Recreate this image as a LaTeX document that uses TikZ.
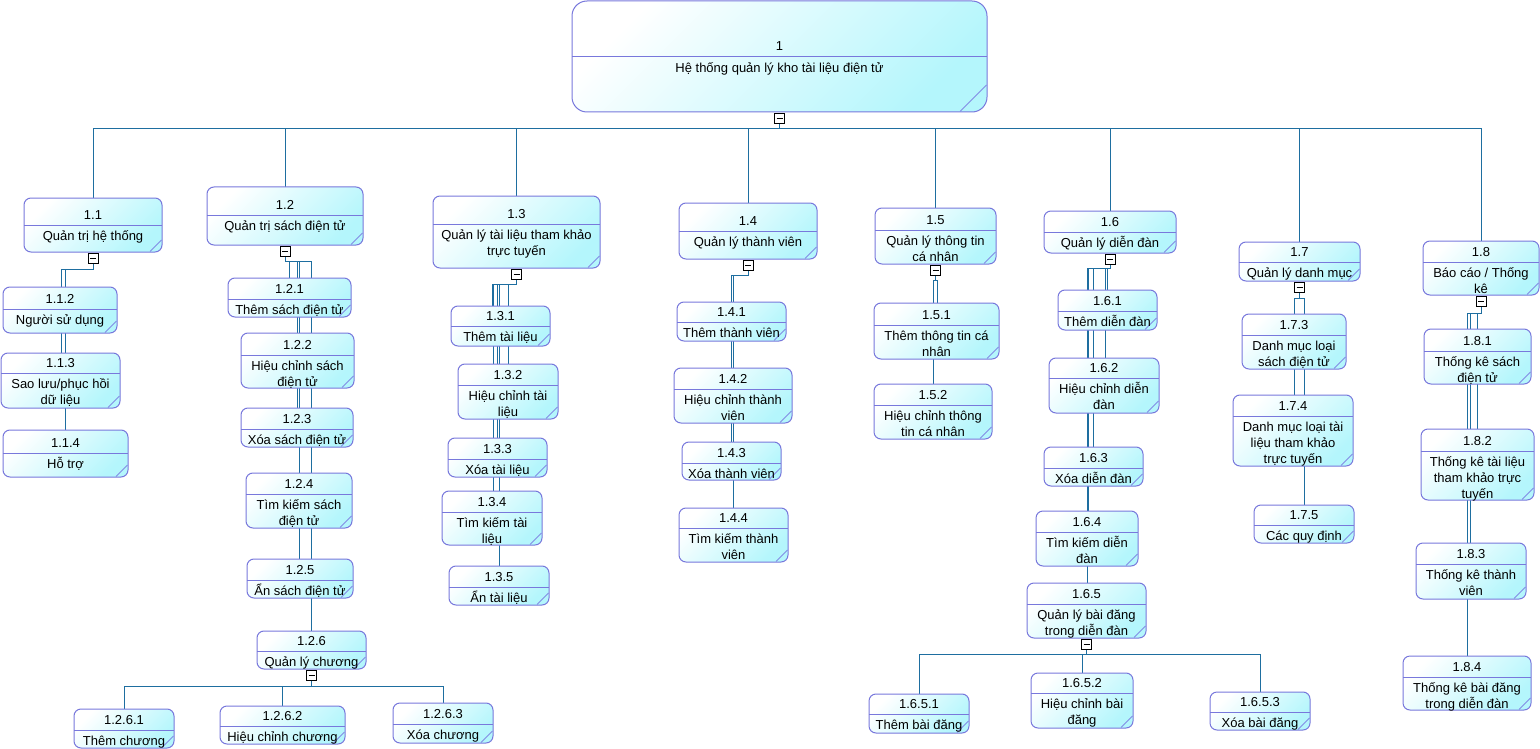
\documentclass[tikz,border=0pt]{standalone}
\usepackage{fontspec}
\setmainfont{Liberation Sans}
\usetikzlibrary{backgrounds}
\definecolor{bordc}{RGB}{120,120,220}
\definecolor{fillc}{RGB}{180,246,252}
\definecolor{connc}{RGB}{30,110,160}
\definecolor{diagc}{RGB}{130,140,230}
\tikzset{
  pbox/.style={draw=bordc, line width=1pt, rounded corners=7pt, top color=white, bottom color=fillc, shading angle=45, inner sep=0pt, outer sep=0pt, anchor=north west},
  txt/.style={inner sep=0pt, font=\fontsize{13}{16}\selectfont, anchor=base},
  conn/.style={draw=connc, line width=1pt},
  divline/.style={draw=bordc, line width=1pt},
  diagline/.style={draw=diagc, line width=0.8pt},
  minusbox/.style={draw=black, fill=white, line width=0.8pt, minimum size=10pt, inner sep=0pt, outer sep=0pt, anchor=north,
    path picture={\draw[black, line width=0.8pt] ([xshift=2pt]path picture bounding box.west) -- ([xshift=-2pt]path picture bounding box.east);}},
}
% name, x1, y1, x2, y2, divider y, number, title lines
\newcommand{\pbx}[8]{%
  \node[pbox, minimum width={(#4-#2)*1pt}, minimum height={(#5-#3)*1pt}] (#1) at (#2,#3) {};
  \draw[divline] (#2,#6) -- (#4,#6);
  \draw[diagline] ({#4-12},{#5-0.5}) -- ({#4-0.5},{#5-12});
  \node[txt] (#1-n) at ({(#2+#4)/2},{#6-5.5}) {#7};
  \foreach \myline [count=\i] in {#8} {\node[txt] (#1-t\i) at ({(#2+#4)/2},{#6+15.5+16*(\i-1)}) {\myline};}
}
\newcommand{\mbx}[2]{\node[minusbox] (#1) at ([yshift=-1pt]#2.south) {};}
% minus node, child node, x of line, jog y
\newcommand{\vconn}[4]{\coordinate (j#2) at (#3,#4); \draw[conn] (#1.south) |- (j#2) -- (j#2 |- #2.north);}
% minus node, child node, bus coordinate
\newcommand{\tconn}[3]{\draw[conn] (#1.south) |- (#3 -| #2.north) -- (#2.north);}
\begin{document}
\begin{tikzpicture}[x=1pt,y=-1pt]
\useasboundingbox (0,0) rectangle (1540,749);
% root
\node[pbox, rounded corners=15pt, minimum width=415pt, minimum height=111pt] (c1) at (572,1) {};
\draw[divline] (572,57) -- (987,57);
\draw[diagline] (960,111.5) -- (986.5,85);
\node[txt] (c1-n) at (779.5,51) {1};
\node[txt] (c1-t1) at (779.5,72.5) {Hệ thống quản lý kho tài liệu điện tử};
% level 1
\pbx{c11}{24}{198}{162}{252}{225}{1.1}{Quản trị hệ thống}
\pbx{c12}{207}{187}{363}{245}{215}{1.2}{Quản trị sách điện tử}
\pbx{c13}{433}{196}{600}{268}{224}{1.3}{Quản lý tài liệu tham khảo,trực tuyến}
\pbx{c14}{679}{203}{817}{259}{231}{1.4}{Quản lý thành viên}
\pbx{c15}{875}{208}{996}{264}{230}{1.5}{Quản lý thông tin,cá nhân}
\pbx{c16}{1044}{211}{1176}{253}{232}{1.6}{Quản lý diễn đàn}
\pbx{c17}{1239}{242}{1360}{281}{262}{1.7}{Quản lý danh mục}
\pbx{c18}{1423}{241}{1539}{295}{262}{1.8}{Báo cáo / Thống,kê}
% 1.1
\pbx{c112}{3}{287}{117}{333}{309}{1.1.2}{Người sử dụng}
\pbx{c113}{1}{353}{120}{408}{373}{1.1.3}{{Sao lưu/phục hồi},dữ liệu}
\pbx{c114}{3}{430}{128}{477}{453}{1.1.4}{Hỗ trợ}
% 1.2
\pbx{c121}{228}{278}{351}{317}{299}{1.2.1}{Thêm sách điện tử}
\pbx{c122}{241}{333}{354}{388}{355}{1.2.2}{Hiệu chỉnh sách,điện tử}
\pbx{c123}{241}{408}{353}{447}{429}{1.2.3}{Xóa sách điện tử}
\pbx{c124}{246}{473}{352}{528}{494}{1.2.4}{Tìm kiếm sách,điện tử}
\pbx{c125}{247}{559}{353}{598}{580}{1.2.5}{Ẩn sách điện tử}
\pbx{c126}{257}{631}{366}{669}{651}{1.2.6}{Quản lý chương}
\pbx{c1261}{74}{709}{174}{748}{730}{1.2.6.1}{Thêm chương}
\pbx{c1262}{220}{706}{345}{744}{726}{1.2.6.2}{Hiệu chỉnh chương}
\pbx{c1263}{393}{703}{493}{743}{724}{1.2.6.3}{Xóa chương}
% 1.3
\pbx{c131}{451}{306}{550}{346}{326}{1.3.1}{Thêm tài liệu}
\pbx{c132}{458}{364}{558}{419}{385}{1.3.2}{Hiệu chỉnh tài,liệu}
\pbx{c133}{448}{438}{547}{477}{459}{1.3.3}{Xóa tài liệu}
\pbx{c134}{442}{491}{542}{545}{512}{1.3.4}{Tìm kiếm tài,liệu}
\pbx{c135}{449}{566}{549}{605}{587}{1.3.5}{Ẩn tài liệu}
% 1.4
\pbx{c141}{677}{302}{786}{341}{322}{1.4.1}{Thêm thành viên}
\pbx{c142}{674}{368}{792}{423}{389}{1.4.2}{Hiệu chỉnh thành,viên}
\pbx{c143}{682}{442}{781}{480}{463}{1.4.3}{Xóa thành viên}
\pbx{c144}{679}{508}{788}{562}{528}{1.4.4}{Tìm kiếm thành,viên}
% 1.5
\pbx{c151}{874}{303}{999}{359}{325}{1.5.1}{Thêm thông tin cá,nhân}
\pbx{c152}{874}{384}{992}{439}{405}{1.5.2}{Hiệu chỉnh thông,tin cá nhân}
% 1.6
\pbx{c161}{1058}{290}{1157}{330}{311}{1.6.1}{Thêm diễn đàn}
\pbx{c162}{1049}{358}{1159}{413}{378}{1.6.2}{Hiệu chỉnh diễn,đàn}
\pbx{c163}{1044}{447}{1143}{486}{468}{1.6.3}{Xóa diễn đàn}
\pbx{c164}{1036}{511}{1138}{566}{532}{1.6.4}{Tìm kiếm diễn,đàn}
\pbx{c165}{1027}{583}{1146}{638}{604}{1.6.5}{Quản lý bài đăng,trong diễn đàn}
\pbx{c1651}{869}{694}{969}{733}{714}{1.6.5.1}{Thêm bài đăng}
\pbx{c1652}{1031}{673}{1133}{728}{693}{1.6.5.2}{Hiệu chỉnh bài,đăng}
\pbx{c1653}{1210}{692}{1310}{730}{712}{1.6.5.3}{Xóa bài đăng}
% 1.7
\pbx{c173}{1242}{314}{1346}{369}{335}{1.7.3}{Danh mục loại,sách điện tử}
\pbx{c174}{1233}{395}{1353}{466}{416}{1.7.4}{Danh mục loại tài,liệu tham khảo,trực tuyến}
\pbx{c175}{1254}{505}{1354}{543}{525}{1.7.5}{Các quy định}
% 1.8
\pbx{c181}{1424}{329}{1531}{384}{351}{1.8.1}{Thống kê sách,điện tử}
\pbx{c182}{1421}{429}{1534}{500}{451}{1.8.2}{Thống kê tài liệu,tham khảo trực,tuyến}
\pbx{c183}{1416}{543}{1526}{599}{564}{1.8.3}{Thống kê thành,viên}
\pbx{c184}{1403}{656}{1531}{710}{677}{1.8.4}{Thống kê bài đăng,trong diễn đàn}
% minus boxes
\mbx{m1}{c1}
\mbx{m11}{c11}
\mbx{m12}{c12}
\mbx{m13}{c13}
\mbx{m14}{c14}
\mbx{m15}{c15}
\mbx{m16}{c16}
\mbx{m17}{c17}
\mbx{m18}{c18}
\mbx{m126}{c126}
\mbx{m165}{c165}
\begin{pgfonlayer}{background}
  \fill[white] (0,0) rectangle (1540,749);
  % main bus
  \coordinate (bus1) at (0,129);
  \draw[conn] (m1.south) -- (m1.south |- bus1);
  \draw[conn] (c11.north |- bus1) -- ([xshift=1pt]c18.north |- bus1);
  \foreach \k in {11,12,13,14,15,16,17,18} {\draw[conn] (c\k.north) -- (c\k.north |- bus1);}
  % 1.1
  \vconn{m11}{c112}{61}{269}
  \vconn{m11}{c113}{61}{269}
  \vconn{m11}{c114}{65}{269}
  % 1.2
  \vconn{m12}{c121}{289}{261}
  \vconn{m12}{c122}{297}{261}
  \vconn{m12}{c123}{297}{261}
  \vconn{m12}{c124}{299}{261}
  \vconn{m12}{c125}{299}{261}
  \vconn{m12}{c126}{311}{261}
  \coordinate (b126) at (0,686);
  \tconn{m126}{c1261}{b126}
  \tconn{m126}{c1262}{b126}
  \tconn{m126}{c1263}{b126}
  % 1.3
  \vconn{m13}{c131}{492}{284}
  \vconn{m13}{c132}{508}{284}
  \vconn{m13}{c133}{497}{284}
  \vconn{m13}{c134}{493}{284}
  \vconn{m13}{c135}{499}{284}
  % 1.4
  \vconn{m14}{c141}{731}{275}
  \vconn{m14}{c142}{731}{275}
  \vconn{m14}{c143}{731}{275}
  \vconn{m14}{c144}{733}{275}
  % 1.5
  \vconn{m15}{c151}{937}{280}
  \vconn{m15}{c152}{933}{280}
  % 1.6
  \vconn{m16}{c161}{1107}{268}
  \vconn{m16}{c162}{1105}{268}
  \vconn{m16}{c163}{1093}{268}
  \vconn{m16}{c164}{1088.5}{268}
  \vconn{m16}{c165}{1087}{268}
  \coordinate (b165) at (0,654);
  \tconn{m165}{c1651}{b165}
  \tconn{m165}{c1652}{b165}
  \tconn{m165}{c1653}{b165}
  % 1.7
  \vconn{m17}{c173}{1294}{298}
  \vconn{m17}{c174}{1294}{298}
  \vconn{m17}{c175}{1304}{298}
  % 1.8
  \vconn{m18}{c181}{1477}{313}
  \vconn{m18}{c182}{1477}{313}
  \vconn{m18}{c183}{1470}{313}
  \vconn{m18}{c184}{1467}{313}
\end{pgfonlayer}
\end{tikzpicture}
\end{document}
